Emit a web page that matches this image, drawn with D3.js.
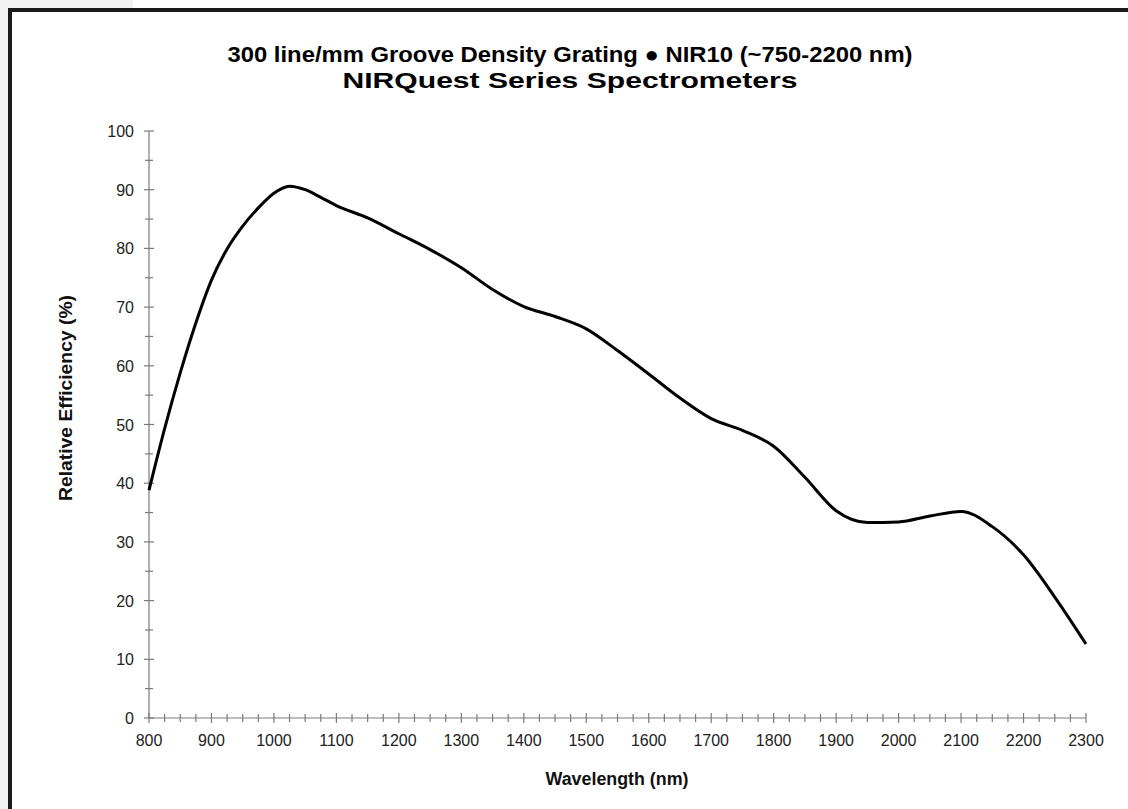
<!DOCTYPE html>
<html>
<head>
<meta charset="utf-8">
<script src="https://cdn.jsdelivr.net/npm/d3@7"></script>
<style>
  html, body { margin: 0; padding: 0; background: #ffffff; }
  svg { display: block; }
</style>
</head>
<body>
<svg id="chart" width="1128" height="809"></svg>
<script>
// ---- Data ----
const titleLines = ["300 line/mm Groove Density Grating \u25CF NIR10 (~750-2200 nm)", "NIRQuest Series Spectrometers"];
const xLabel = "Wavelength (nm)";
const yLabel = "Relative Efficiency (%)";
const wavelengths = [800, 825, 850, 875, 900, 925, 950, 975, 1000, 1025, 1050, 1075, 1100, 1150, 1200, 1250, 1300, 1350, 1400, 1450, 1500, 1550, 1600, 1650, 1700, 1750, 1800, 1850, 1900, 1950, 2000, 2050, 2100, 2150, 2200, 2250, 2300];
const efficiency = [38.8, 49.3, 58.8, 67.3, 74.6, 79.9, 83.8, 86.9, 89.4, 90.6, 90.0, 88.7, 87.3, 85.2, 82.5, 79.8, 76.7, 73.0, 70.1, 68.4, 66.3, 62.6, 58.6, 54.5, 51.0, 49.0, 46.3, 41.0, 35.3, 33.3, 33.4, 34.4, 35.2, 32.6, 27.8, 20.6, 12.6];
const xTicks = [800, 900, 1000, 1100, 1200, 1300, 1400, 1500, 1600, 1700, 1800, 1900, 2000, 2100, 2200, 2300];
const yTicks = [0, 10, 20, 30, 40, 50, 60, 70, 80, 90, 100];

const svg = d3.select("#chart");
const W = 1128, H = 809;

// page frame
svg.append("rect").attr("x", 0).attr("y", 0).attr("width", 133).attr("height", 8).attr("fill", "#f2f2f2");
svg.append("rect").attr("x", 0).attr("y", 0).attr("width", 8).attr("height", H).attr("fill", "#f2f2f2");
svg.append("rect").attr("x", 8).attr("y", 8).attr("width", W).attr("height", H).attr("fill", "#ffffff");
svg.append("path").attr("d", `M10,${H + 5} L10,10 L${W + 5},10`).attr("fill", "none").attr("stroke", "#1a1a1a").attr("stroke-width", 4);

const x = d3.scaleLinear().domain([800, 2300]).range([149, 1086]);
const y = d3.scaleLinear().domain([0, 100]).range([718, 131]);

const axisColor = "#7a7a7a";
const font = "'Liberation Sans', Arial, Helvetica, sans-serif";

// x axis
const gx = svg.append("g");
gx.append("line").attr("x1", x(800)).attr("x2", x(2300)).attr("y1", y(0)).attr("y2", y(0)).attr("stroke", axisColor).attr("stroke-width", 1.2);
const xMinor = d3.range(800, 2301, 25);
gx.selectAll("line.tick").data(xMinor).join("line")
  .attr("x1", d => x(d)).attr("x2", d => x(d))
  .attr("y1", d => y(0) - (d % 100 === 0 ? 5 : 4))
  .attr("y2", d => y(0) + (d % 100 === 0 ? 5 : 4))
  .attr("stroke", axisColor).attr("stroke-width", 1.2);
gx.selectAll("text").data(xTicks).join("text")
  .attr("x", d => x(d)).attr("y", 746)
  .attr("text-anchor", "middle")
  .attr("font-family", font).attr("font-size", 16).attr("fill", "#222")
  .text(d => d);

// y axis
const gy = svg.append("g");
gy.append("line").attr("x1", x(800)).attr("x2", x(800)).attr("y1", y(0)).attr("y2", y(100)).attr("stroke", axisColor).attr("stroke-width", 1.2);
const yMinor = d3.range(0, 101, 5);
gy.selectAll("line.tick").data(yMinor).join("line")
  .attr("x1", d => x(800) - (d % 10 === 0 ? 5 : 4))
  .attr("x2", d => x(800) + (d % 10 === 0 ? 5 : 4))
  .attr("y1", d => y(d)).attr("y2", d => y(d))
  .attr("stroke", axisColor).attr("stroke-width", 1.2);
gy.selectAll("text").data(yTicks).join("text")
  .attr("x", 134).attr("y", d => y(d) + 6)
  .attr("text-anchor", "end")
  .attr("font-family", font).attr("font-size", 16).attr("fill", "#222")
  .text(d => d);

// curve
const data = wavelengths.map((w, i) => [w, efficiency[i]]);
svg.append("path").datum(data)
  .attr("d", d3.line().x(d => x(d[0])).y(d => y(d[1])).curve(d3.curveMonotoneX))
  .attr("fill", "none").attr("stroke", "#000").attr("stroke-width", 3).attr("stroke-linejoin", "round");

// titles
const tfont = "'Liberation Sans Narrow', 'Liberation Sans', Arial, sans-serif";
svg.append("text").attr("x", 570).attr("y", 62).attr("text-anchor", "middle")
  .attr("font-family", tfont).attr("font-weight", "bold").attr("font-size", 22).attr("fill", "#000")
  .attr("textLength", 685).attr("lengthAdjust", "spacingAndGlyphs")
  .text(titleLines[0]);
svg.append("text").attr("x", 570).attr("y", 88).attr("text-anchor", "middle")
  .attr("font-family", tfont).attr("font-weight", "bold").attr("font-size", 22).attr("fill", "#000")
  .attr("textLength", 455).attr("lengthAdjust", "spacingAndGlyphs")
  .text(titleLines[1]);

svg.append("text").attr("x", 617).attr("y", 785).attr("text-anchor", "middle")
  .attr("font-family", font).attr("font-weight", "bold").attr("font-size", 18).attr("fill", "#111")
  .attr("textLength", 143).attr("lengthAdjust", "spacingAndGlyphs")
  .text(xLabel);
svg.append("text").attr("transform", "translate(72,398) rotate(-90)").attr("text-anchor", "middle")
  .attr("font-family", font).attr("font-weight", "bold").attr("font-size", 18).attr("fill", "#111")
  .attr("textLength", 206).attr("lengthAdjust", "spacingAndGlyphs")
  .text(yLabel);
</script>
</body>
</html>
